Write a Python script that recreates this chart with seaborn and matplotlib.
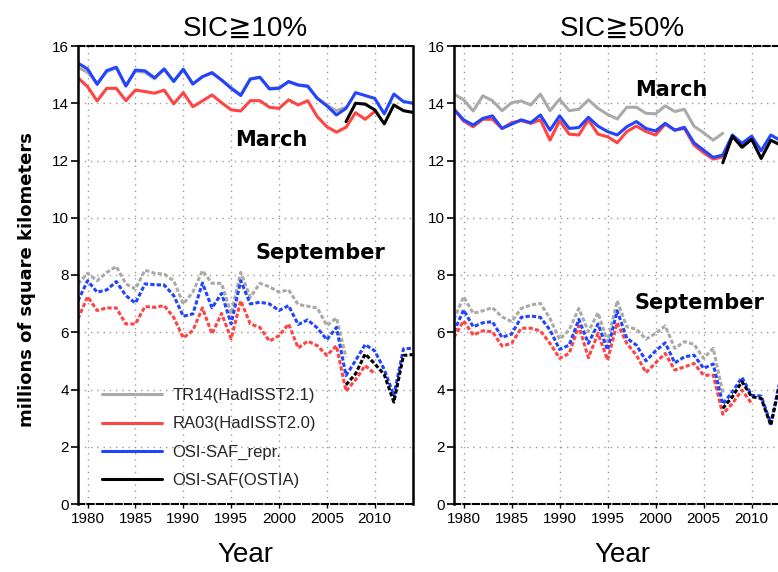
import numpy as np
import pandas as pd
import matplotlib
matplotlib.use("Agg")
import matplotlib.pyplot as plt
from matplotlib.lines import Line2D
import seaborn as sns

# ---------------- data ----------------
years_tr14 = list(range(1979, 2008))   # TR14(HadISST2.1)
years_ra03 = list(range(1979, 2011))   # RA03(HadISST2.0)
years_repr = list(range(1979, 2015))   # OSI-SAF_repr.
years_ostia = list(range(2007, 2015))  # OSI-SAF(OSTIA)

# SIC >= 10 %, March
tr14_mar_10 = [15.25, 15.08, 14.70, 15.10, 15.24, 14.62, 15.12, 15.08, 14.85, 15.18,
               14.78, 15.17, 14.68, 14.92, 15.05, 14.82, 14.55, 14.30, 14.86, 14.90,
               14.52, 14.55, 14.74, 14.63, 14.58, 14.18, 13.93, 13.74, 13.86]
ra03_mar_10 = [14.89, 14.58, 14.08, 14.52, 14.52, 14.09, 14.46, 14.41, 14.35, 14.46,
               13.98, 14.37, 13.88, 14.08, 14.29, 14.02, 13.77, 13.73, 14.09, 14.09,
               13.86, 13.82, 14.12, 13.94, 14.09, 13.53, 13.18, 12.99, 13.16, 13.67,
               13.44, 13.71]
repr_mar_10 = [15.40, 15.20, 14.66, 15.14, 15.26, 14.60, 15.16, 15.13, 14.89, 15.20,
               14.76, 15.19, 14.67, 14.93, 15.07, 14.81, 14.52, 14.27, 14.84, 14.91,
               14.50, 14.52, 14.76, 14.64, 14.60, 14.17, 13.91, 13.59, 13.82, 14.37,
               14.27, 14.17, 13.63, 14.32, 14.06, 14.00]
ostia_mar_10 = [13.36, 14.00, 13.97, 13.77, 13.28, 13.94, 13.74, 13.68]

# SIC >= 10 %, September
tr14_sep_10 = [7.69, 8.06, 7.80, 8.09, 8.30, 7.69, 7.51, 8.17, 8.06, 8.03,
               7.80, 6.99, 7.40, 8.15, 7.71, 7.71, 6.64, 8.09, 7.22, 7.71,
               7.59, 7.40, 7.48, 6.97, 6.91, 6.85, 6.23, 6.50, 5.13]
ra03_sep_10 = [6.47, 7.24, 6.76, 6.85, 6.85, 6.29, 6.29, 6.90, 6.87, 6.93,
               6.52, 5.80, 6.06, 6.85, 5.94, 6.66, 5.77, 7.10, 6.29, 6.17,
               5.69, 5.88, 6.29, 5.45, 5.69, 5.53, 5.19, 5.53, 3.94, 4.34,
               4.84, 4.55]
repr_sep_10 = [7.10, 7.80, 7.40, 7.48, 7.77, 7.28, 7.02, 7.69, 7.66, 7.65,
               7.28, 6.56, 6.64, 7.72, 6.85, 7.36, 6.29, 7.80, 6.99, 7.05,
               6.99, 6.76, 6.93, 6.27, 6.43, 6.15, 5.74, 6.17, 4.49, 5.01,
               5.57, 5.35, 4.70, 3.79, 5.42, 5.44]
ostia_sep_10 = [4.16, 4.55, 5.24, 4.90, 4.52, 3.56, 5.19, 5.22]

# SIC >= 50 %, March
tr14_mar_50 = [14.32, 14.12, 13.73, 14.26, 14.09, 13.74, 14.02, 14.08, 13.94, 14.32,
               13.74, 14.14, 13.74, 13.79, 14.12, 13.82, 13.61, 13.45, 13.86, 13.86,
               13.65, 13.63, 13.91, 13.71, 13.79, 13.20, 12.97, 12.71, 12.95]
ra03_mar_50 = [13.79, 13.38, 13.18, 13.44, 13.44, 13.12, 13.32, 13.39, 13.30, 13.42,
               12.71, 13.39, 12.92, 12.89, 13.42, 12.92, 12.83, 12.62, 13.01, 13.20,
               13.01, 12.89, 13.27, 13.06, 13.12, 12.54, 12.27, 12.05, 12.13, 12.83,
               12.50, 12.74]
repr_mar_50 = [13.79, 13.42, 13.24, 13.47, 13.56, 13.12, 13.27, 13.42, 13.32, 13.59,
               13.06, 13.56, 13.12, 13.15, 13.51, 13.20, 13.01, 12.89, 13.18, 13.36,
               13.12, 13.03, 13.30, 13.06, 13.16, 12.62, 12.36, 12.11, 12.19, 12.89,
               12.60, 12.85, 12.34, 12.89, 12.70, 12.65]
ostia_mar_50 = [11.92, 12.85, 12.46, 12.74, 12.07, 12.71, 12.54, 12.50]

# SIC >= 50 %, September
tr14_sep_50 = [6.45, 7.24, 6.66, 6.75, 6.86, 6.54, 6.37, 6.83, 6.95, 7.01,
               6.48, 5.75, 6.08, 6.83, 6.02, 6.68, 5.67, 7.10, 6.19, 6.11,
               5.76, 5.96, 6.22, 5.44, 5.67, 5.58, 5.09, 5.44, 3.89]
ra03_sep_50 = [5.82, 6.40, 5.90, 6.05, 6.02, 5.52, 5.61, 6.14, 6.14, 6.05,
               5.61, 5.09, 5.26, 6.22, 5.11, 5.96, 5.03, 6.33, 5.61, 5.20,
               4.59, 4.93, 5.26, 4.68, 4.79, 4.91, 4.50, 4.50, 3.14, 3.51,
               3.98, 3.51]
repr_sep_50 = [6.02, 6.78, 6.19, 6.33, 6.37, 5.82, 5.94, 6.52, 6.57, 6.52,
               6.08, 5.40, 5.55, 6.45, 5.61, 6.29, 5.38, 6.75, 5.79, 5.55,
               5.00, 5.35, 5.63, 4.93, 5.14, 5.20, 4.74, 4.89, 3.49, 3.92,
               4.42, 3.80, 3.77, 2.80, 4.40, 4.30]
ostia_sep_50 = [3.34, 3.75, 4.27, 3.75, 3.69, 2.75, 4.30, 4.20]

series_labels = ["TR14(HadISST2.1)", "RA03(HadISST2.0)", "OSI-SAF_repr.", "OSI-SAF(OSTIA)"]
series_colors = ["#aaaaaa", "#ff4444", "#2244ff", "#000000"]
panel_titles = ["SIC\u226710%", "SIC\u226750%"]

# ---------------- style ----------------
sns.set_theme(style="white")
plt.rcParams["font.family"] = ["Liberation Sans", "DejaVu Sans"]

W, H = 778, 572
fig = plt.figure(figsize=(W / 100, H / 100), dpi=100)

def px_axes(x0, x1, ytop, ybot):
    return fig.add_axes([x0 / W, (H - ybot) / H, (x1 - x0) / W, (ybot - ytop) / H])

ax1 = px_axes(78, 413, 46, 504)
ax2 = px_axes(454, 790, 46, 504)

panels = [
    (ax1, [tr14_mar_10, ra03_mar_10, repr_mar_10, ostia_mar_10],
          [tr14_sep_10, ra03_sep_10, repr_sep_10, ostia_sep_10]),
    (ax2, [tr14_mar_50, ra03_mar_50, repr_mar_50, ostia_mar_50],
          [tr14_sep_50, ra03_sep_50, repr_sep_50, ostia_sep_50]),
]
year_sets = [years_tr14, years_ra03, years_repr, years_ostia]

LW = 2.2
for ax, mar, sep in panels:
    for yrs, vals, col in zip(year_sets, mar, series_colors):
        sns.lineplot(x=yrs, y=vals, ax=ax, color=col, linewidth=LW,
                     linestyle="-", sort=False, errorbar=None, legend=False)
    for yrs, vals, col in zip(year_sets, sep, series_colors):
        sns.lineplot(x=yrs, y=vals, ax=ax, color=col, linewidth=LW,
                     linestyle=(0, (1.4, 0.7)), sort=False, errorbar=None, legend=False)

for ax, title in zip([ax1, ax2], panel_titles):
    ax.set_xlim(1979, 2014)
    ax.set_ylim(0, 16)
    ax.set_xticks(range(1980, 2011, 5))
    ax.set_yticks(range(0, 17, 2))
    ax.grid(True, color="#9a9a9a", linestyle=(0, (1, 3.5)), linewidth=1.0)
    ax.set_axisbelow(True)
    for side in ["left", "right"]:
        ax.spines[side].set_color("black")
        ax.spines[side].set_linewidth(1.8)
    for side in ["top", "bottom"]:
        ax.spines[side].set_color("black")
        ax.spines[side].set_linewidth(1.5)
        ax.spines[side].set_linestyle((0, (3, 1.5)))
    ax.tick_params(axis="y", which="both", left=True, length=5, width=1.2,
                   pad=1.5, labelsize=11, color="black", labelcolor="black")
    ax.tick_params(axis="x", which="both", bottom=True, length=3, width=1.0,
                   pad=3, labelsize=11, color="black", labelcolor="black")
    ax.set_title(title, fontsize=20, pad=7, color="black",
                 family=["Liberation Sans", "DejaVu Sans"])
    ax.set_xlabel("Year", fontsize=20, labelpad=11, color="black")
    ax.set_ylabel("")

# annotations
txt_kw = dict(fontsize=15, fontweight="bold", ha="center", va="center",
              color="black", family="DejaVu Sans")
ax1.text(1999.2, 12.70, "March", **txt_kw)
ax1.text(2004.3, 8.76, "September", **txt_kw)
ax2.text(2001.65, 14.48, "March", **txt_kw)
ax2.text(2004.6, 7.03, "September", **txt_kw)

fig.text(27 / W, (H - 280) / H, "millions of square kilometers", rotation=90,
         ha="center", va="center", fontsize=13, fontweight="bold",
         family="DejaVu Sans", color="black")

handles = [Line2D([0], [0], color=c, linewidth=LW) for c in series_colors]
leg = ax1.legend(handles, series_labels, loc="upper left",
                 bbox_to_anchor=((101.7 - 78) / 335, (504 - 388) / 458),
                 frameon=False, fontsize=12, handlelength=3.6,
                 handletextpad=0.65, labelspacing=0.8, borderpad=0,
                 borderaxespad=0)

fig.savefig("out.png", dpi=100)
